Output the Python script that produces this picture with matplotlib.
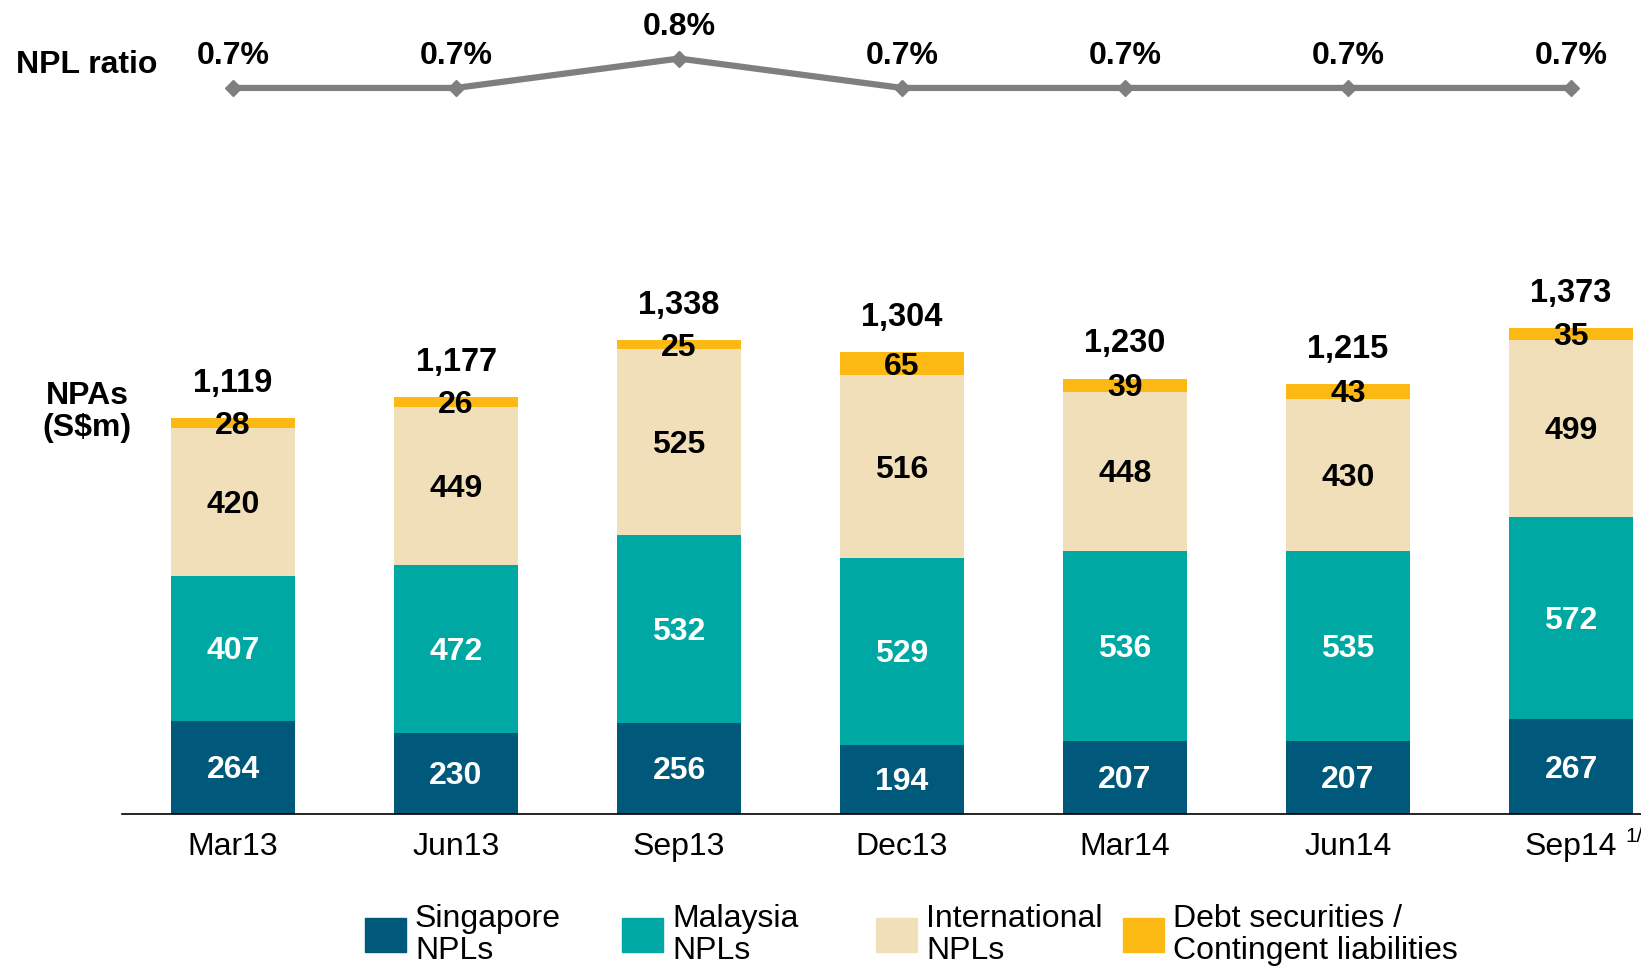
import matplotlib.pyplot as plt
from matplotlib.patches import Rectangle

plt.rcParams['font.family'] = ['Liberation Sans', 'DejaVu Sans']

quarters = ["Mar13", "Jun13", "Sep13", "Dec13", "Mar14", "Jun14", "Sep14"]
singapore = [264, 230, 256, 194, 207, 207, 267]
malaysia = [407, 472, 532, 529, 536, 535, 572]
international = [420, 449, 525, 516, 448, 430, 499]
debt = [28, 26, 25, 65, 39, 43, 35]
totals = [1119, 1177, 1338, 1304, 1230, 1215, 1373]
npl_ratio = [0.7, 0.7, 0.8, 0.7, 0.7, 0.7, 0.7]

series_names = ["Singapore\nNPLs", "Malaysia\nNPLs", "International\nNPLs",
                "Debt securities /\nContingent liabilities"]
colors = ["#00587A", "#00A8A3", "#F0DFB8", "#FCB913"]
text_colors = ["white", "white", "black", "black"]

W, H = 1641, 968
fig = plt.figure(figsize=(W / 100, H / 100), dpi=100)

# bar axes: category i centred at pixel 233 + 223*i, baseline at pixel 814
px_per_unit = 0.354
x0, dx = 233, 223
xlim = ((122 - x0) / dx, (W - x0) / dx)
ytop = 1600
ax = fig.add_axes([122 / W, (H - 814) / H, (W - 122) / W, ytop * px_per_unit / H])
ax.set_xlim(*xlim)
ax.set_ylim(0, ytop)

x = list(range(len(quarters)))
bottom = [0] * len(quarters)
for vals, col, tcol in zip([singapore, malaysia, international, debt], colors, text_colors):
    ax.bar(x, vals, width=0.554, bottom=bottom, color=col, edgecolor="none")
    for i, v in enumerate(vals):
        ax.annotate(str(v), (i, bottom[i] + v / 2), xytext=(0, -2),
                    textcoords="offset points", ha="center", va="center",
                    color=tcol, fontsize=23, fontweight="bold")
    bottom = [b + v for b, v in zip(bottom, vals)]

for i, t in enumerate(totals):
    ax.annotate(f"{t:,}", (i, bottom[i]), xytext=(0, 25), textcoords="offset points",
                ha="center", va="center", fontsize=23.5, fontweight="bold")

for s in ["top", "right", "left"]:
    ax.spines[s].set_visible(False)
ax.spines["bottom"].set_linewidth(1.2)
ax.set_yticks([])
ax.set_xticks(x)
ax.set_xticklabels(quarters, fontsize=23)
ax.tick_params(axis="x", length=0, pad=13)

# NPL ratio line
lax = fig.add_axes([122 / W, (H - 130) / H, (W - 122) / W, 100 / H])
lax.set_xlim(*xlim)
lax.set_ylim(0.557, 0.897)
lax.axis("off")
lax.plot(x, npl_ratio, color="#7F7F7F", linewidth=4.5, marker="D", markersize=8)
for i, r in enumerate(npl_ratio):
    lax.annotate(f"{r:.1f}%", (i, r), xytext=(0, 23), textcoords="offset points",
                 ha="center", va="center", fontsize=23, fontweight="bold")

fig.text(87 / W, 1 - 65 / H, "NPL ratio", ha="center", va="center",
         fontsize=23, fontweight="bold")
fig.text(87 / W, 1 - 412 / H, "NPAs\n(S$m)", ha="center", va="center",
         fontsize=23, fontweight="bold", linespacing=1.05)
fig.text(1634 / W, 1 - 837 / H, "1/", ha="center", va="center", fontsize=15)

# legend
leg_x = [365, 622, 876, 1123]
for lx, name, col in zip(leg_x, series_names, colors):
    fig.add_artist(Rectangle((lx / W, 1 - 952 / H), 41 / W, 34 / H,
                             transform=fig.transFigure, color=col))
    fig.text((lx + 50) / W, 1 - 935 / H, name, ha="left", va="center",
             fontsize=23, linespacing=1.12)

fig.savefig("out.png", dpi=100)
